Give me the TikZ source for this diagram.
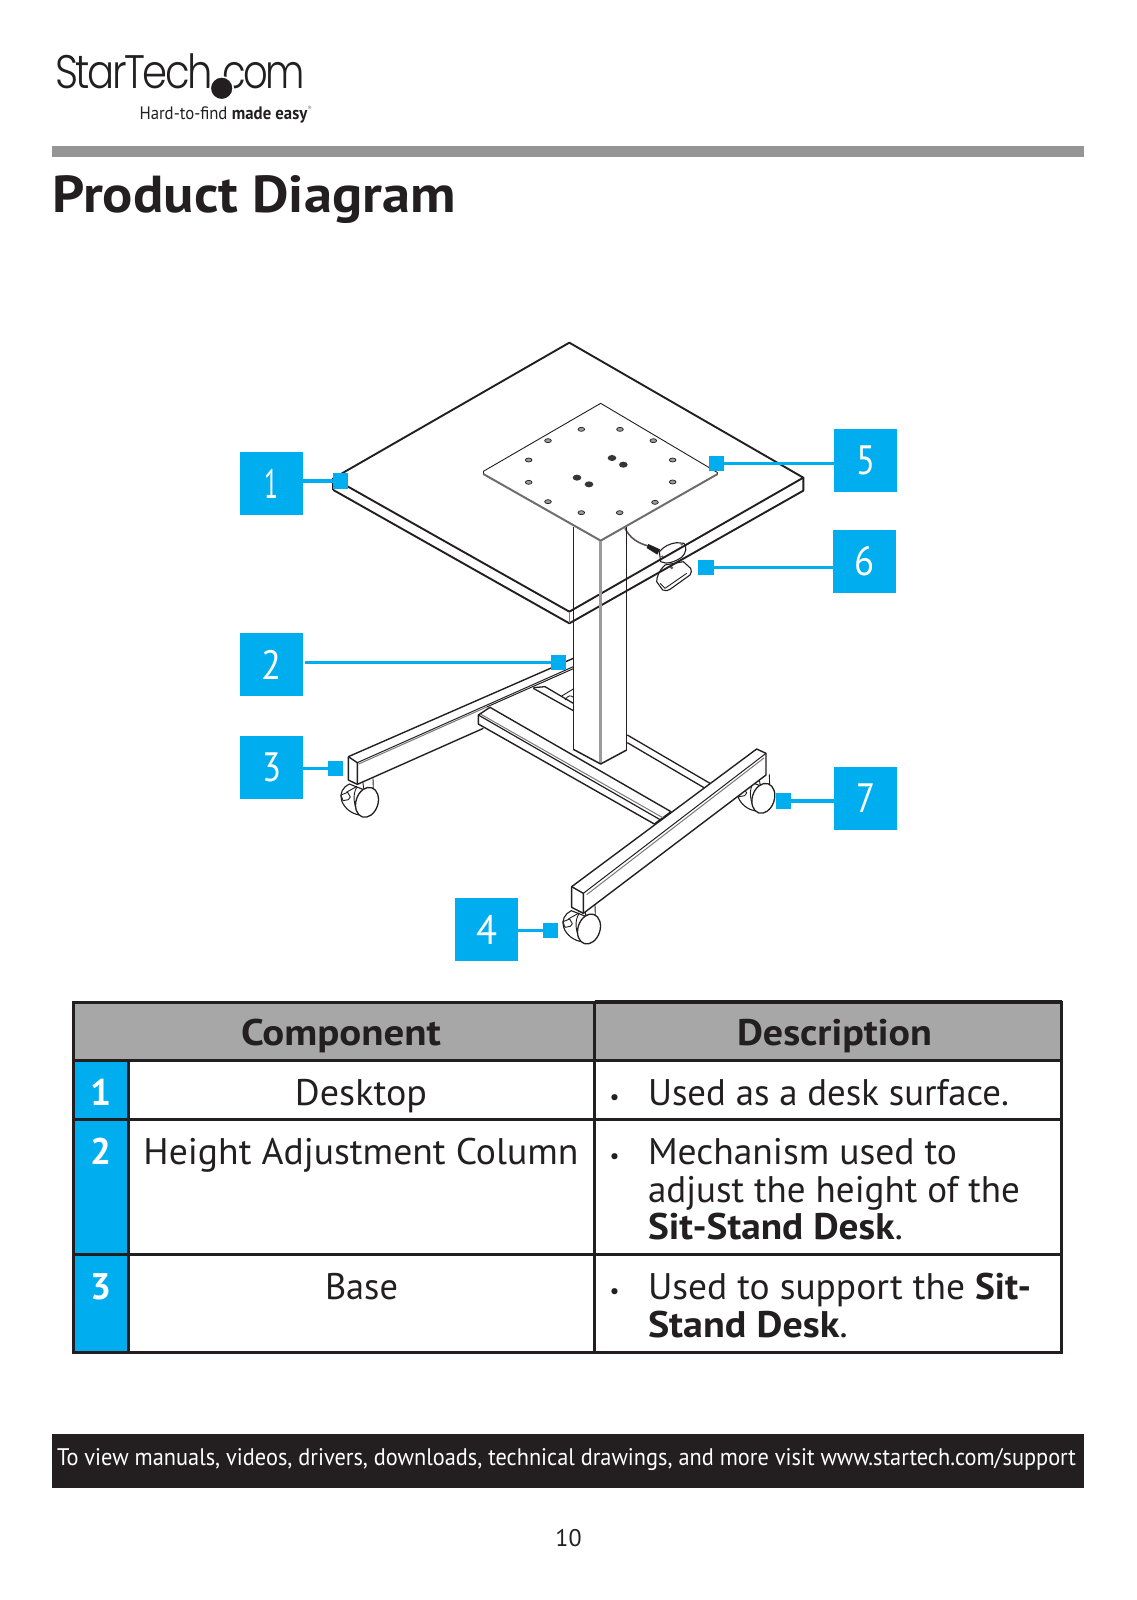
\documentclass[tikz,border=0pt]{standalone}
\usepackage{fontspec}
\usepackage{graphicx}
\setmainfont{PT Sans}
\newfontfamily\logofont[LetterSpace=-6]{Poppins Light}
\definecolor{cy}{HTML}{00AEEF}
\definecolor{ink}{HTML}{231F20}
\definecolor{barg}{HTML}{959595}
\definecolor{headg}{HTML}{A7A7A7}
\newcommand\fitw[2]{\resizebox{#1pt}{\height}{#2}}
\newcommand\fs[1]{\fontsize{#1}{#1}\selectfont}
\tikzset{
 txt/.style={anchor=base west,inner sep=0pt,outer sep=0pt,text=ink},
 ctr/.style={anchor=base,inner sep=0pt,outer sep=0pt,text=ink},
 callout/.style={fill=cy,minimum width=63pt,minimum height=63pt,inner sep=0pt,outer sep=0pt,text=white,font=\fs{41}},
 tick/.style={fill=cy,minimum width=15.5pt,minimum height=15.5pt,inner sep=0pt,outer sep=0pt},
 lead/.style={draw=cy,line width=3.2pt},
 ed/.style={draw=ink,line width=1.9pt,line join=round},
 thin/.style={draw=ink,line width=0.9pt,line join=round},
 gr/.style={draw=ink!60,line width=1pt},
 tbl/.style={draw=ink,line width=3pt},
 zA/.style={shift={(320,330)},x=0.33333pt,y=-0.33333pt},
 zB/.style={shift={(320,620)},x=0.33333pt,y=-0.33333pt},
 zC/.style={shift={(620,520)},x=0.33333pt,y=-0.33333pt},
}
% caster: wheel centred on #1/#2 in zB units
\newcommand\caster[2]{
 \begin{scope}[shift={(#1,#2)}]
  \draw[thin,line width=1.1pt,fill=white] (-53,-55) .. controls (-72,-47) and (-84,-25) .. (-76,-5) .. controls (-68,18) and (-45,36) .. (-20,38) -- (10,-30) -- cycle;
  \draw[thin,fill=white] (-13,-65) -- (-10,-42) -- (19,-38) -- (18,-72);
  \draw[thin,fill=white] (-78,-22) -- (-58,-30) -- (-50,-16) -- (-56,-8) -- (-72,-5) -- cycle;
  \draw[thin] (-62,-30) -- (-30,-48);
  \draw[thin] (-30,-46) .. controls (-45,-25) and (-40,15) .. (-22,38);
  \draw[ed,line width=1.3pt,fill=white] (0,0) ellipse [x radius=33,y radius=46,rotate=-18];
 \end{scope}
}
\begin{document}
\begin{tikzpicture}[x=1pt,y=-1pt]
\useasboundingbox (0,0) rectangle (1136,1600);
\fill[white] (0,0) rectangle (1136,1600);
% header
\node[txt] (logoA) at (55,88.5) {\logofont\fs{47}\fitw{158}{StarTech}};
\node[txt] (logoB) at (222,88.5) {\logofont\fs{47}\fitw{83}{com}};
\fill[ink,draw=white,line width=1.6pt] (221.7,88.3) circle (11.5pt);
\node[txt] (tag) at (139.5,120) {\fs{18}\fitw{168}{Hard-to-find \textbf{made easy}}};
\node[txt,text=ink!60] (reg) at (307.5,111) {\fs{6}®};
\fill[barg] (51.5,146) rectangle (1084,157);
\node[txt] (title) at (52.5,212) {\fs{52}\fitw{403}{\textbf{Product Diagram}}};
% casters
\begin{scope}[zB]
 \caster{141}{547}
 \caster{807}{927}
 \caster{1330}{535}
\end{scope}
% base
\begin{scope}[zB]
 % left beam
 \fill[white] (85,410) -- (760,115) -- (760,146) -- (490,325) -- (112,493) -- (85,480) -- cycle;
 \draw[ed,line width=1.4pt] (85,410) -- (760,115);
 \draw[ed,line width=1.4pt] (85,410) -- (85,480) -- (112,493) -- (490,325);
 \draw[ed,line width=1.4pt] (85,410) -- (112,428) -- (112,493);
 \draw[ed,line width=1pt] (112,428) -- (760,140);
 \draw[gr] (116,432) -- (500,261);
 \draw[ed,line width=1pt] (500,261) -- (760,146);
 % cross beam, far part
 \draw[ed,line width=1.3pt] (640,203) -- (675,200) -- (760,250);
 \draw[ed,line width=1.3pt] (640,205) -- (760,272);
 \draw[thin] (725,228) -- (760,207);
 \draw[thin] (735,240) .. controls (745,225) and (752,225) .. (760,232);
 \draw[ed,line width=1.3pt] (922,345) -- (1170,490);
 \draw[ed,line width=1.3pt] (922,368) -- (1152,503);
 % cross beam, near part
 \draw[ed,line width=1.4pt,fill=white] (510,262) -- (1053,575) -- (1003,612) -- (475,312) -- (475,285) -- cycle;
 \draw[ed,line width=1.2pt] (475,285) -- (1022,600);
 \draw[gr] (483,283) -- (1030,594);
 % right beam
 \draw[ed,line width=1.4pt,fill=white] (755,800) -- (1310,387) -- (1338,400) -- (1338,465) -- (790,880) -- (755,862) -- cycle;
 \draw[ed,line width=1.4pt] (755,800) -- (790,820) -- (790,880);
 \draw[ed,line width=1pt] (790,820) -- (1338,400);
 \draw[gr] (800,824) -- (1332,414);
\end{scope}
% height switch
\begin{scope}[zC]
 \draw[ink!75,line width=1.6pt] (15,25) .. controls (30,55) and (55,70) .. (85,78);
 \fill[ink] (85,72) -- (120,88) -- (112,104) -- (80,84) -- cycle;
 \draw[thin,line width=1.1pt,fill=white] (135,135) .. controls (118,150) and (110,170) .. (110,185) -- (128,210) .. controls (135,214) and (145,212) .. (150,208) -- (210,165) .. controls (215,160) and (215,150) .. (212,145) -- (190,125) -- cycle;
 \draw[thin] (120,190) -- (135,205) -- (200,160);
 \draw[thin,line width=1.1pt,fill=white] (118,95) .. controls (130,80) and (150,70) .. (170,68) -- (192,70) .. controls (202,80) and (198,100) .. (185,112) .. controls (165,125) and (140,135) .. (122,125) -- cycle;
 \fill[ink!70] (127,110) circle (4) (185,73) circle (4) (155,143) circle (5);
\end{scope}
% desk top
\begin{scope}[zA]
 \coordinate (T) at (748,38);
 \coordinate (R) at (1450,443);
 \coordinate (F) at (748,845);
 \coordinate (L) at (40,445);
 \coordinate (R2) at (1450,482);
 \coordinate (F2) at (748,880);
 \coordinate (L2) at (40,480);
 \draw[ed] (T) -- (R) -- (F) -- (L) -- cycle;
 \draw[ed] (L2) -- (F2) -- (R2) -- (R);
 \draw[ed] (L) -- (L2);
 \draw[gr,line width=1.2pt] (F) -- (F2);
 % plate
 \draw[thin] (490,424) -- (842,220) -- (1193,428);
 \draw[thin] (490,424) -- (490,432);
 \draw[thin] (1193,428) -- (1193,434);
 \draw[ink!65,line width=2pt] (490,432) -- (842,632) -- (1193,432);
 \foreach \hx/\hy in {784/298,900/298,684/332,1000/332,626/390,1058/390,626/457,1058/456,684/515,1005/517,784/548,899/548}
  \draw[ink,line width=.7pt,fill=ink!45] (\hx,\hy) ellipse [x radius=10,y radius=6];
 \foreach \hx/\hy in {876/384,910/404,771/443,807/463}
  \fill[ink!90] (\hx,\hy) ellipse [x radius=13,y radius=9];
 % column
 \draw[ed,line width=1.5pt] (760,590) -- (760,1258);
 \draw[ed,line width=1.5pt] (920,590) -- (920,1260);
 \draw[draw=ink!45,line width=3pt] (842,632) -- (842,1302);
 \draw[ed,line width=1.5pt] (760,1258) -- (842,1302) -- (920,1260);
\end{scope}
% callouts
\node[callout] (b1) at (271.5,483.5) {\raisebox{-1pt}{\fitw{14}{1}}};
\node[callout] (b2) at (271.5,664.5) {\fitw{20}{2}};
\node[callout] (b3) at (271.5,767.5) {\fitw{19}{3}};
\node[callout] (b4) at (486.5,929.5) {\fitw{21}{4}};
\node[callout] (b5) at (865.5,460.5) {\raisebox{-1pt}{\fitw{19}{5}}};
\node[callout] (b6) at (864.5,561.5) {\raisebox{-1pt}{\fitw{20}{6}}};
\node[callout] (b7) at (865.5,798.5) {\fitw{19}{7}};
\node[tick] (s1) at (340.7,481) {};
\node[tick] (s2) at (558.7,662.5) {};
\node[tick] (s3) at (335.7,768.5) {};
\node[tick] (s4) at (550.7,930.3) {};
\node[tick] (s5) at (716.7,463.5) {};
\node[tick] (s6) at (706,567.5) {};
\node[tick] (s7) at (783.7,801) {};
\draw[lead] (b1.east |- s1) -- (s1);
\draw[lead,shorten <=2pt] (b2.east |- s2) -- (s2);
\draw[lead] (b3.east |- s3) -- (s3);
\draw[lead] (b4.east |- s4) -- (s4);
\draw[lead] (b5.west |- s5) -- (s5);
\draw[lead] (b6.west |- s6) -- (s6);
\draw[lead] (b7.west |- s7) -- (s7);
% table
\fill[headg] (73,1002) rectangle (1061,1060.5);
\fill[cy] (73,1060.5) rectangle (128.5,1352.5);
\draw[tbl] (73,1002) rectangle (1061,1352.5);
\draw[tbl,line width=3.6pt] (594.5,1002) -- (1062,1002);
\draw[tbl] (73,1060.5) -- (1061,1060.5);
\draw[tbl] (73,1119) -- (1061,1119);
\draw[tbl] (73,1254.5) -- (1061,1254.5);
\draw[tbl] (128.5,1060.5) -- (128.5,1352.5);
\draw[tbl] (594.5,1002) -- (594.5,1352.5);
\node[ctr] (hc) at (341,1045) {\fs{37}\fitw{200}{\textbf{Component}}};
\node[ctr] (hd) at (834.5,1045) {\fs{37}\fitw{195}{\textbf{Description}}};
\node[ctr,text=white] (n1) at (100.5,1105) {\fs{37}\textbf{1}};
\node[ctr,text=white] (n2) at (100.5,1164) {\fs{37}\textbf{2}};
\node[ctr,text=white] (n3) at (100.5,1299) {\fs{37}\textbf{3}};
\node[ctr] (c1) at (361,1105) {\fs{37}\fitw{132}{Desktop}};
\node[ctr] (c2) at (361,1164) {\fs{37}\fitw{435}{Height Adjustment Column}};
\node[ctr] (c3) at (361.5,1299) {\fs{37}\fitw{73}{Base}};
\node[ctr] (d1b) at (614.5,1104) {\fs{22}•};
\node[ctr] (d2b) at (614.5,1163) {\fs{22}•};
\node[ctr] (d3b) at (614.5,1298) {\fs{22}•};
\node[txt] (d1) at (648,1105) {\fs{37}\fitw{361}{Used as a desk surface.}};
\node[txt] (d2a) at (648,1164) {\fs{37}\fitw{309}{Mechanism used to}};
\node[txt] (d2c) at (648,1202.3) {\fs{37}\fitw{372}{adjust the height of the}};
\node[txt] (d2d) at (648,1239.6) {\fs{37}\fitw{255}{\textbf{Sit-Stand Desk}.}};
\node[txt] (d3a) at (648,1299) {\fs{37}\fitw{383}{Used to support the \textbf{Sit-}}};
\node[txt] (d3c) at (648,1337) {\fs{37}\fitw{200}{\textbf{Stand Desk}.}};
% footer
\fill[ink] (51.5,1434) rectangle (1084,1487.5);
\node[txt,text=white] (foot) at (57,1465.5) {\fs{24}\fitw{1019}{To view manuals, videos, drivers, downloads, technical drawings, and more visit www.startech.com/support}};
\node[ctr] (pg) at (568.5,1546) {\fs{24}10};
\end{tikzpicture}
\end{document}
